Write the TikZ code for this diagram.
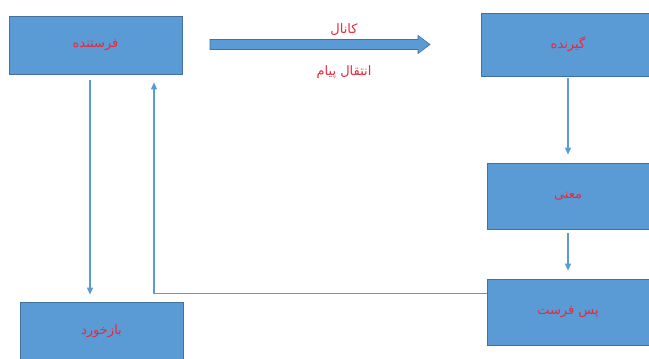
\documentclass[tikz,border=0pt]{standalone}
\usepackage{fontspec}
\newfontfamily\arabicfont[Script=Arabic]{DejaVu Sans}
\TeXXeTstate=1
\usetikzlibrary{arrows.meta}
\definecolor{boxfill}{HTML}{5B9BD5}
\definecolor{boxline}{HTML}{41719C}
\definecolor{txtred}{HTML}{E8283C}
\definecolor{lineblue}{HTML}{5B9BD5}
\tikzset{
  box/.style={rectangle, draw=boxline, fill=boxfill, line width=0.8pt, inner sep=0pt,
    text=txtred, font=\arabicfont\fontsize{13}{15}\selectfont},
  lbl/.style={inner sep=0pt, text=txtred, font=\arabicfont\fontsize{13}{15}\selectfont},
  conn/.style={draw=lineblue, line width=1.1pt, -{Triangle[width=6pt,length=7pt]}},
  blockarrow/.style={draw=boxline, fill=boxfill, line width=0.6pt, line join=miter}
}
\begin{document}
\begin{tikzpicture}[x=1pt,y=-1pt]
\useasboundingbox (0,0) rectangle (649,359);
\clip (0,0) rectangle (649,359);
\fill[white] (0,0) rectangle (649,359);
% boxes
\node[box, minimum width=173pt, minimum height=58pt] (snd) at (95.5,45) {\beginR فرستنده\endR};
\node[box, minimum width=174pt, minimum height=63pt] (rcv) at (568,44.5) {\beginR گیرنده\endR};
\node[box, minimum width=162pt, minimum height=66pt] (mn) at (568,196) {\beginR معنی\endR};
\node[box, minimum width=162pt, minimum height=66pt] (pf) at (568,312) {\beginR پس فرست\endR};
\node[box, minimum width=163pt, minimum height=58pt] (fb) at (101.5,331) {\beginR بازخورد\endR};
% channel arrow
\draw[blockarrow] (210,39.5) -- (418,39.5) -- (418,35.5) -- (430,44.5) -- (418,53.5) -- (418,49.5) -- (210,49.5) -- cycle;
\node[lbl] (ch) at (344,30) {\beginR کانال\endR};
\node[lbl] (msg) at (344,72) {\beginR انتقال پیام\endR};
% connectors
\draw[conn] ([xshift=-5.5pt,yshift=-6pt]snd.south) -- ([xshift=-11.5pt,yshift=7pt]fb.north);
\draw[conn] ([yshift=-15pt]pf.north west) -| ([xshift=58.5pt,yshift=-8pt]snd.south);
\draw[conn] ([yshift=-2pt]rcv.south) -- ([yshift=8pt]mn.north);
\draw[conn] ([yshift=-4pt]mn.south) -- ([yshift=8pt]pf.north);
\end{tikzpicture}
\end{document}
